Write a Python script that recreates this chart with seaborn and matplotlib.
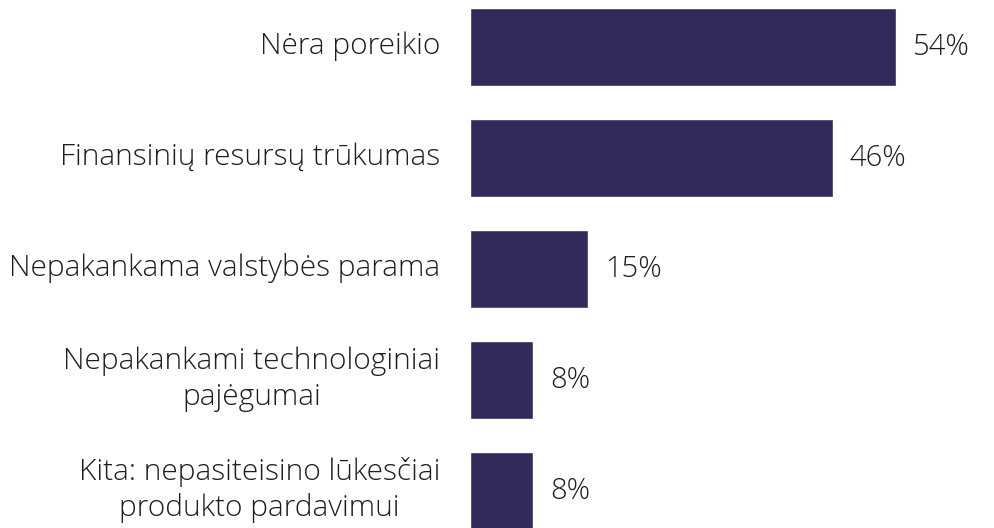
import matplotlib
matplotlib.use("Agg")
import matplotlib.pyplot as plt
import matplotlib.transforms as mtransforms
import seaborn as sns
import pandas as pd

categories = ["Nėra poreikio", "Finansinių resursų trūkumas", "Nepakankama valstybės parama",
              "Nepakankami technologiniai\npajėgumai", "Kita: nepasiteisino lūkesčiai\nprodukto pardavimui"]
values = [54, 46, 15, 8, 8]
value_labels = ["54%", "46%", "15%", "8%", "8%"]

sns.set_theme(style="white")
plt.rcParams['font.family'] = ['Open Sans', 'DejaVu Sans']

df = pd.DataFrame({"cat": categories, "val": values})
fig = plt.figure(figsize=(9.94, 5.28), dpi=100)
ax = fig.add_axes([470/994, 0, 1 - 470/994, 1])
sns.barplot(data=df, y="cat", x="val", orient="h", color="#312A5A", saturation=1, width=0.7, ax=ax)
ax.set_xlim(0, 66.4)
ax.set_ylim(4.333, -0.423)
for s in ax.spines.values():
    s.set_visible(False)
ax.set_xticks([])
ax.set_xlabel("")
ax.set_ylabel("")
ax.set_yticks(range(len(categories)))
ax.set_yticklabels([])
ax.tick_params(axis="y", length=0)
off = mtransforms.ScaledTranslation(-30 / 100, 1 / 100, fig.dpi_scale_trans)
for i, cat in enumerate(categories):
    ax.text(0, i, cat, transform=ax.get_yaxis_transform() + off, ha="right", va="center",
            fontsize=21.5, fontweight=300, color="#1e1e1e", multialignment="center",
            linespacing=1.3, clip_on=False)
for i, (v, lab) in enumerate(zip(values, value_labels)):
    ax.annotate(lab, (v, i), xytext=(12, 0), textcoords="offset points", va="center", ha="left",
                fontsize=21, fontweight=300, color="#1e1e1e")
fig.savefig("out.png", dpi=100)
